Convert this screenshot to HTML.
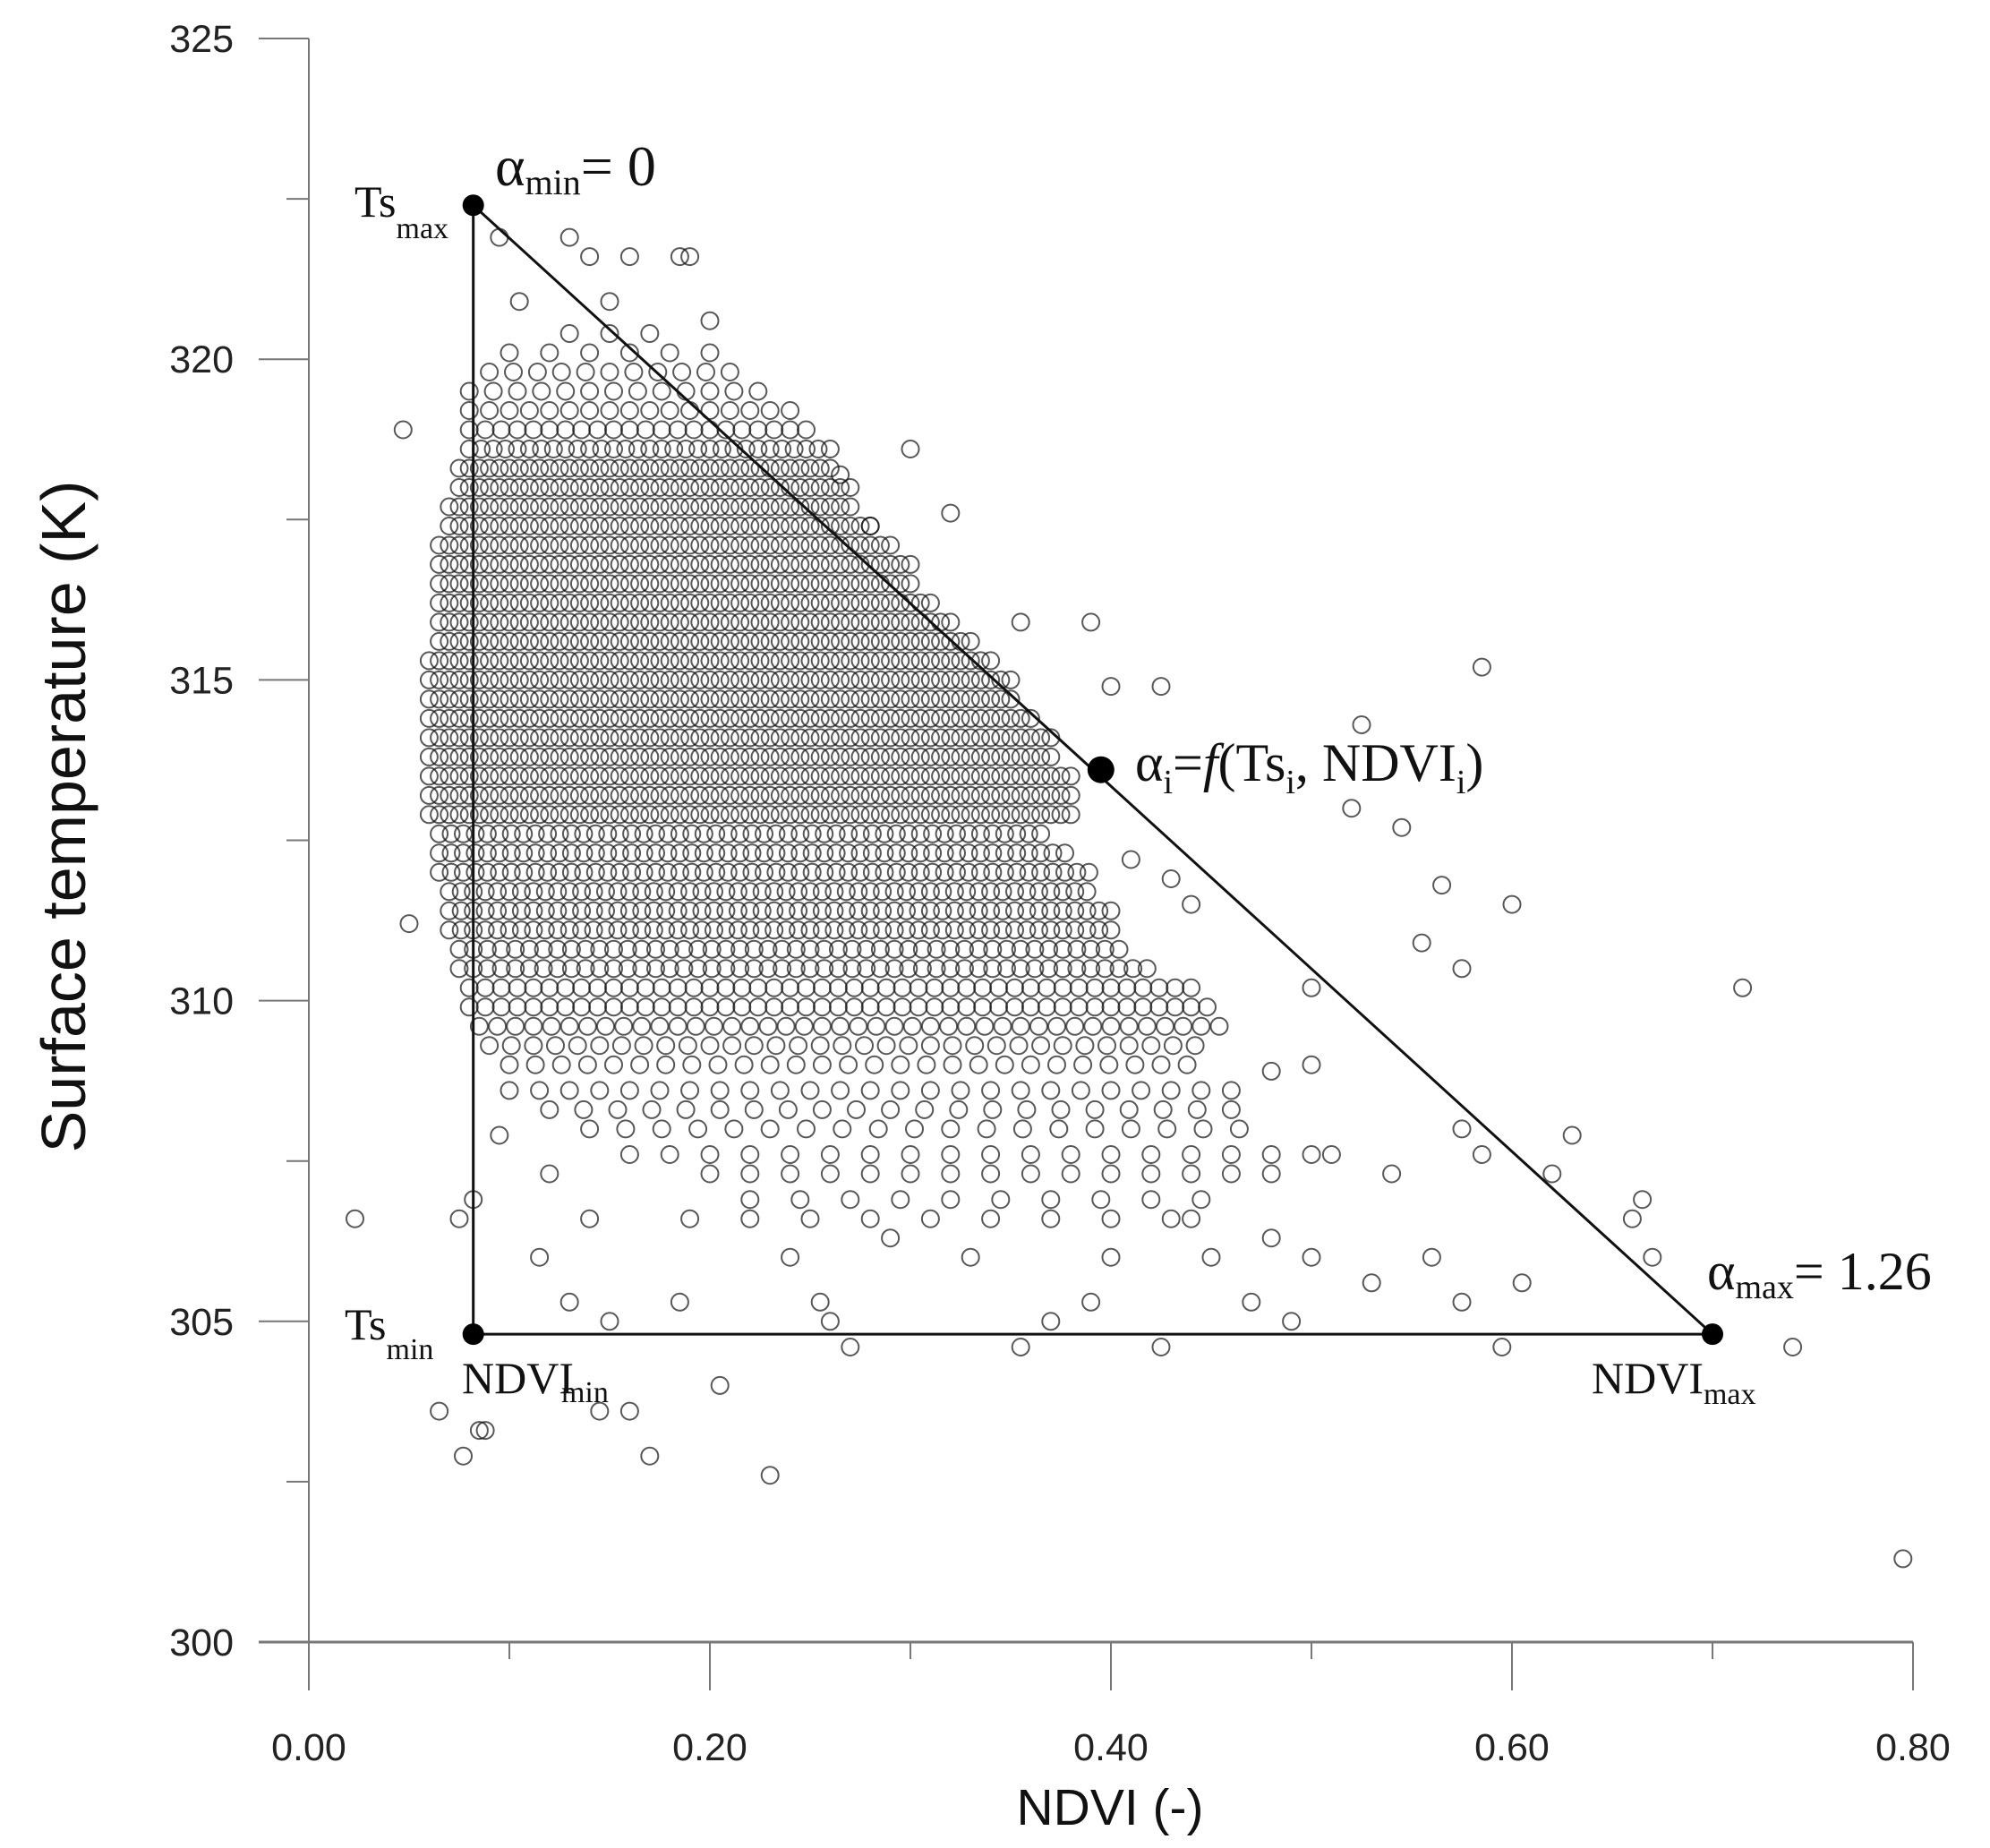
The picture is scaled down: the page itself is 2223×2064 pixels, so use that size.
<!DOCTYPE html>
<html><head><meta charset="utf-8"><style>
html,body{margin:0;padding:0;background:#fff;}
svg{display:block;}
.tick{font-family:"Liberation Sans",sans-serif;font-size:43px;fill:#222;}
.ser{font-family:"Liberation Serif",serif;fill:#111;}
</style></head><body>
<svg id="chart" width="2223" height="2064" viewBox="0 0 2223 2064" xmlns="http://www.w3.org/2000/svg">
<g id="pts"></g>
<g id="axes"></g>
<g id="tri"></g>
<g>
<text class="ser" x="396" y="242" font-size="50">Ts<tspan font-size="34" dy="24">max</tspan></text>
<text class="ser" x="553" y="207" font-size="64">α<tspan font-size="40" dy="10">min</tspan><tspan dy="-10">= 0</tspan></text>
<text class="ser" x="1268" y="872" font-size="60">α<tspan font-size="38" dy="14">i</tspan><tspan dy="-14">=</tspan><tspan font-style="italic">f</tspan>(Ts<tspan font-size="38" dy="14">i</tspan><tspan dy="-14">, NDVI</tspan><tspan font-size="38" dy="14">i</tspan><tspan dy="-14">)</tspan></text>
<text class="ser" x="1907" y="1440" font-size="60">α<tspan font-size="38" dy="10">max</tspan><tspan dy="-10">= 1.26</tspan></text>
<text class="ser" x="385" y="1496" font-size="50">Ts<tspan font-size="34" dy="22">min</tspan></text>
<text class="ser" x="516" y="1556" font-size="50">NDVI<tspan font-size="34" dy="10" dx="-14">min</tspan></text>
<text class="ser" x="1778" y="1556" font-size="50">NDVI<tspan font-size="34" dy="12">max</tspan></text>
</g>
<text x="1240" y="2038" text-anchor="middle" font-family="Liberation Sans,sans-serif" font-size="57" fill="#111">NDVI (-)</text>
<text transform="translate(95,912) rotate(-90)" text-anchor="middle" font-family="Liberation Sans,sans-serif" font-size="70" fill="#111">Surface temperature (K)</text>
</svg>
<script>
const xTicks=[0,0.2,0.4,0.6,0.8];
const xTickLabels=["0.00","0.20","0.40","0.60","0.80"];
const xMinor=[0.1,0.3,0.5,0.7];
const yTicks=[300,305,310,315,320,325];
const yMinor=[302.5,307.5,312.5,317.5,322.5];
const rowTs=[320.4,320.1,319.8,319.5,319.2,318.9,318.6,318.3,318.0,317.7,317.4,317.1,316.8,316.5,316.2,315.9,315.6,315.3,315.0,314.7,314.4,314.1,313.8,313.5,313.2,312.9,312.6,312.3,312.0,311.7,311.4,311.1,310.8,310.5,310.2,309.9,309.6,309.3,309.0,308.6,308.3,308.0,307.6,307.3,306.9,306.6];
const rowLo=[0.13,0.10,0.09,0.08,0.08,0.08,0.08,0.075,0.075,0.07,0.07,0.065,0.065,0.065,0.065,0.065,0.065,0.06,0.06,0.06,0.06,0.06,0.06,0.06,0.06,0.06,0.065,0.065,0.065,0.07,0.07,0.07,0.075,0.075,0.08,0.08,0.085,0.09,0.10,0.10,0.12,0.14,0.16,0.20,0.22,0.22];
const rowHi=[0.17,0.20,0.22,0.23,0.24,0.25,0.26,0.26,0.27,0.27,0.28,0.29,0.30,0.30,0.31,0.32,0.33,0.34,0.35,0.35,0.36,0.37,0.37,0.38,0.38,0.38,0.37,0.38,0.39,0.39,0.40,0.40,0.41,0.42,0.44,0.45,0.46,0.45,0.44,0.45,0.47,0.47,0.50,0.48,0.46,0.45];
const rowStep=[0.02,0.02,0.012,0.012,0.01,0.008,0.006,0.005,0.005,0.005,0.005,0.005,0.005,0.005,0.005,0.005,0.005,0.005,0.005,0.005,0.005,0.005,0.005,0.005,0.005,0.005,0.006,0.006,0.006,0.006,0.006,0.006,0.007,0.007,0.008,0.008,0.009,0.011,0.013,0.015,0.017,0.018,0.02,0.02,0.025,0.03];
const outNdvi=[0.023,0.047,0.05,0.065,0.077,0.085,0.088,0.082,0.075,0.095,0.115,0.12,0.13,0.14,0.15,0.145,0.17,0.16,0.185,0.19,0.205,0.23,0.24,0.26,0.27,0.255,0.29,0.33,0.355,0.37,0.39,0.40,0.425,0.44,0.45,0.47,0.48,0.49,0.50,0.53,0.56,0.575,0.595,0.605,0.62,0.63,0.66,0.665,0.67,0.74,0.795,0.715,0.60,0.585,0.565,0.575,0.555,0.545,0.52,0.525,0.50,0.50,0.48,0.46,0.44,0.43,0.425,0.40,0.39,0.41,0.355,0.30,0.32,0.28,0.265,0.20,0.185,0.19,0.16,0.13,0.14,0.095,0.105,0.15,0.575,0.585,0.54,0.51];
const outTs=[306.6,318.9,311.2,303.6,302.9,303.3,303.3,306.9,306.6,307.9,306.0,307.3,305.3,306.6,305.0,303.6,302.9,303.6,305.3,306.6,304.0,302.6,306.0,305.0,304.6,305.3,306.3,306.0,304.6,305.0,305.3,306.0,304.6,306.6,306.0,305.3,306.3,305.0,306.0,305.6,306.0,305.3,304.6,305.6,307.3,307.9,306.6,306.9,306.0,304.6,301.3,310.2,311.5,315.2,311.8,310.5,310.9,312.7,313.0,314.3,310.2,309.0,308.9,308.6,311.5,311.9,314.9,314.9,315.9,312.2,315.9,318.6,317.6,317.4,318.2,320.6,321.6,321.6,321.6,321.9,321.6,321.9,320.9,320.9,308.0,307.6,307.3,307.6];
const triNdvi=[0.082,0.082,0.70];
const triTs=[322.4,304.8,304.8];
const midNdvi=0.395, midTs=313.6;

const NS="http://www.w3.org/2000/svg";
const X=v=>345+v*2240;
const Y=t=>43+(325-t)*71.64;
function mk(tag,attrs,parent){const e=document.createElementNS(NS,tag);for(const k in attrs)e.setAttribute(k,attrs[k]);parent.appendChild(e);return e;}
const pts=document.getElementById('pts'),axes=document.getElementById('axes'),tri=document.getElementById('tri');
function circ(n,t){const c=mk('circle',{cx:X(n).toFixed(1),cy:Y(t).toFixed(1),r:9.5,fill:'none',stroke:'#111','stroke-opacity':0.7,'stroke-width':2},pts);

}
for(let i=0;i<rowTs.length;i++){for(let n=rowLo[i];n<=rowHi[i]+1e-9;n+=rowStep[i])circ(n,rowTs[i]);}
for(let i=0;i<outNdvi.length;i++)circ(outNdvi[i],outTs[i]);
let l=mk('line',{x1:345,y1:Y(325),x2:345,y2:Y(300),stroke:'#777','stroke-width':2},axes);


l=mk('line',{x1:289,y1:Y(300),x2:X(0.8),y2:Y(300),stroke:'#777','stroke-width':3},axes);


yTicks.forEach(t=>{mk('line',{x1:289,y1:Y(t),x2:345,y2:Y(t),stroke:'#777','stroke-width':2},axes);
const tx=mk('text',{x:261,y:Y(t)+15,'text-anchor':'end',class:'tick'},axes);tx.textContent=t;

});
yMinor.forEach(t=>mk('line',{x1:320,y1:Y(t),x2:345,y2:Y(t),stroke:'#777','stroke-width':2},axes));
xTicks.forEach((v,i)=>{mk('line',{x1:X(v),y1:Y(300),x2:X(v),y2:1888,stroke:'#777','stroke-width':2},axes);
const tx=mk('text',{x:X(v),y:1966,'text-anchor':'middle',class:'tick'},axes);tx.textContent=xTickLabels[i];

});
xMinor.forEach(v=>mk('line',{x1:X(v),y1:Y(300),x2:X(v),y2:1853,stroke:'#777','stroke-width':2},axes));
const p=mk('polygon',{points:triNdvi.map((n,i)=>X(n)+','+Y(triTs[i])).join(' '),fill:'none',stroke:'#111','stroke-width':3},tri);


triNdvi.concat([midNdvi]).forEach((n,i)=>{const t=i<3?triTs[i]:midTs;const c=mk('circle',{cx:X(n),cy:Y(t),r:i==3?15:12,fill:'#000'},tri);

});
</script>
</body></html>
